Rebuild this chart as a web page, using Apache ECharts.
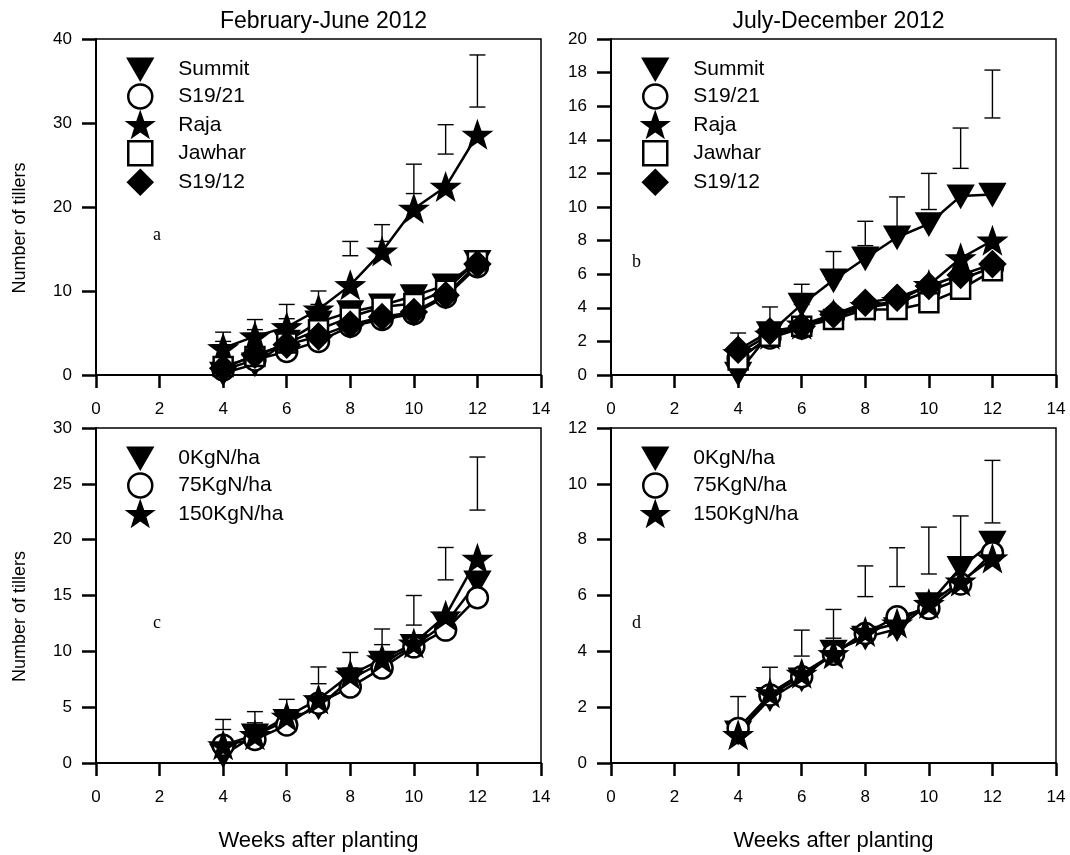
<!DOCTYPE html>
<html>
<head>
<meta charset="utf-8">
<script src="https://cdn.jsdelivr.net/npm/echarts@6/dist/echarts.min.js"></script>
<style>
  html, body { margin: 0; padding: 0; background: #fff; }
  #chart { width: 1070px; height: 855px; }
</style>
</head>
<body>
<div id="chart"></div>
<script>
// Weeks after planting (shared by all four panels)
const weeks = [4, 5, 6, 7, 8, 9, 10, 11, 12];
const xTicks = [0, 2, 4, 6, 8, 10, 12, 14];

// (a) February-June 2012, varieties
const febSummit = [0.2, 1.3, 4.0, 6.3, 7.5, 8.3, 9.4, 10.7, 13.5];
const febS1921  = [0.6, 1.8, 2.8, 4.0, 5.8, 6.6, 7.3, 9.3, 12.9];
const febRaja   = [3.2, 4.6, 5.7, 7.8, 10.7, 14.7, 19.8, 22.4, 28.6];
const febJawhar = [1.0, 2.2, 3.8, 5.4, 6.9, 8.1, 8.5, 10.1, 13.6];
const febS1912  = [0.8, 2.4, 3.6, 4.6, 6.0, 6.9, 7.5, 9.5, 13.2];
const febLsdLow  = [4.0, 5.4, 6.7, 8.4, 14.2, 15.9, 21.6, 26.3, 31.9];
const febLsdHigh = [5.1, 6.6, 8.4, 10.0, 15.9, 17.9, 25.1, 29.8, 38.1];

// (b) July-December 2012, varieties
const julSummit = [0.1, 2.5, 4.2, 5.65, 6.95, 8.2, 9.0, 10.65, 10.75];
const julS1921  = [1.0, 2.2, 2.8, 3.5, 4.0, 4.3, 5.0, 5.7, 6.4];
const julRaja   = [1.3, 2.4, 3.0, 3.6, 4.1, 4.4, 5.36, 6.95, 8.0];
const julJawhar = [0.9, 2.3, 2.9, 3.3, 3.9, 3.9, 4.3, 5.1, 6.2];
const julS1912  = [1.5, 2.6, 2.9, 3.6, 4.3, 4.6, 5.3, 5.95, 6.6];
const julLsdLow  = [1.5, 2.8, 4.2, 5.7, 7.7, 8.6, 9.85, 12.3, 15.3];
const julLsdHigh = [2.5, 4.05, 5.4, 7.35, 9.15, 10.6, 12.0, 14.7, 18.15];

// (c) February-June 2012, nitrogen rates
const febN0   = [0.7, 2.5, 3.8, 5.0, 7.5, 9.0, 10.5, 12.5, 16.2];
const febN75  = [1.6, 2.1, 3.4, 5.35, 6.8, 8.5, 10.4, 11.9, 14.8];
const febN150 = [1.6, 2.5, 4.15, 5.7, 7.9, 9.3, 10.7, 13.2, 18.3];
const febNLsdLow  = [3.0, 3.6, 4.3, 7.1, 8.5, 10.6, 12.35, 16.4, 22.65];
const febNLsdHigh = [3.9, 4.6, 5.7, 8.6, 9.9, 12.0, 15.0, 19.3, 27.4];

// (d) July-December 2012, nitrogen rates
const julN0   = [1.1, 2.3, 3.0, 4.0, 4.5, 4.8, 5.7, 7.0, 7.9];
const julN75  = [1.24, 2.44, 3.09, 3.9, 4.64, 5.24, 5.54, 6.41, 7.53];
const julN150 = [1.0, 2.5, 3.2, 3.9, 4.7, 5.0, 5.7, 6.5, 7.33];
const julNLsdLow  = [1.3, 2.6, 3.83, 4.47, 5.96, 6.32, 6.77, 7.15, 8.6];
const julNLsdHigh = [2.38, 3.43, 4.76, 5.5, 7.06, 7.71, 8.45, 8.85, 10.84];

// Y axis ranges per panel
const yMax = [40, 20, 30, 12];
const yStep = [10, 2, 5, 2];

const varietyNames = ['Summit', 'S19/21', 'Raja', 'Jawhar', 'S19/12'];
const nitrogenNames = ['0KgN/ha', '75KgN/ha', '150KgN/ha'];

// ---- marker shapes ----
function starPath() {
  const pts = [];
  for (let i = 0; i < 10; i++) {
    const r = i % 2 === 0 ? 50 : 20;
    const a = -Math.PI / 2 + i * Math.PI / 5;
    pts.push((50 + r * Math.cos(a)).toFixed(2) + ',' + (50 + r * Math.sin(a)).toFixed(2));
  }
  return 'path://M' + pts.join('L') + 'Z';
}
const SYM = {
  down: { symbol: 'path://M0,0L100,0L50,86Z', size: [24, 21], fill: '#000' },
  circle: { symbol: 'circle', size: 21, fill: '#fff' },
  star: { symbol: starPath(), size: [25, 24], fill: '#000' },
  square: { symbol: 'rect', size: 19, fill: '#fff' },
  diamond: { symbol: 'diamond', size: [25, 25], fill: '#000' }
};
const varietyShapes = [SYM.down, SYM.circle, SYM.star, SYM.square, SYM.diamond];
const nitrogenShapes = [SYM.down, SYM.circle, SYM.star];

const FONT = 'Liberation Sans, Arial, Helvetica, sans-serif';
const grids = [
  { left: 96, top: 39, width: 445, height: 336 },
  { left: 611, top: 39, width: 445, height: 336 },
  { left: 96, top: 428, width: 445, height: 335 },
  { left: 611, top: 428, width: 445, height: 335 }
];

function pairs(ys) { return weeks.map((w, i) => [w, ys[i]]); }
function lsdTriples(lo, hi) { return weeks.map((w, i) => [w, lo[i], hi[i]]); }

function lineSeries(name, ys, shape, idx) {
  return {
    type: 'line', name: name, xAxisIndex: idx, yAxisIndex: idx,
    data: pairs(ys),
    symbol: shape.symbol, symbolSize: shape.size,
    lineStyle: { color: '#000', width: 2.5 },
    itemStyle: { color: shape.fill, borderColor: '#000', borderWidth: 2.5 },
    emphasis: { disabled: true },
    animation: false, z: 3
  };
}

// LSD bars: vertical segment with end caps
function lsdSeries(lo, hi, idx) {
  return {
    type: 'custom', xAxisIndex: idx, yAxisIndex: idx,
    data: lsdTriples(lo, hi),
    encode: { x: 0, y: [1, 2] },
    z: 2, animation: false, silent: true,
    renderItem: function (params, api) {
      const x = api.value(0);
      const a = api.coord([x, api.value(1)]);
      const b = api.coord([x, api.value(2)]);
      const w = 8;
      const st = { stroke: '#000', lineWidth: 1.4 };
      return {
        type: 'group', children: [
          { type: 'line', shape: { x1: a[0], y1: a[1], x2: b[0], y2: b[1] }, style: st },
          { type: 'line', shape: { x1: a[0] - w, y1: a[1], x2: a[0] + w, y2: a[1] }, style: st },
          { type: 'line', shape: { x1: b[0] - w, y1: b[1], x2: b[0] + w, y2: b[1] }, style: st }
        ]
      };
    }
  };
}

const series = [];
[[febSummit, febS1921, febRaja, febJawhar, febS1912], [julSummit, julS1921, julRaja, julJawhar, julS1912]]
  .forEach((set, p) => set.forEach((ys, k) => series.push(lineSeries(varietyNames[k], ys, varietyShapes[k], p))));
[[febN0, febN75, febN150], [julN0, julN75, julN150]]
  .forEach((set, p) => set.forEach((ys, k) => series.push(lineSeries(nitrogenNames[k], ys, nitrogenShapes[k], p + 2))));
series.push(lsdSeries(febLsdLow, febLsdHigh, 0));
series.push(lsdSeries(julLsdLow, julLsdHigh, 1));
series.push(lsdSeries(febNLsdLow, febNLsdHigh, 2));
series.push(lsdSeries(julNLsdLow, julNLsdHigh, 3));

function legendFor(idx, names, shapes) {
  const g = grids[idx];
  return {
    orient: 'vertical', left: g.left + 26, top: g.top + 13.5,
    itemWidth: 24, itemHeight: 24, itemGap: 2.5,
    selectedMode: false,
    textStyle: { fontFamily: FONT, fontSize: 21, color: '#000', padding: [0, 0, 0, 21] },
    data: names.map((n, k) => ({
      name: n, icon: shapes[k].symbol,
      itemStyle: { color: shapes[k].fill, borderColor: '#000', borderWidth: 2.5 }
    }))
  };
}

const xAxes = grids.map((g, i) => ({
  type: 'value', gridIndex: i, min: 0, max: 14, interval: 2,
  axisLine: { show: true, onZero: false, lineStyle: { color: '#000', width: 2 } },
  axisTick: { show: true, inside: false, length: 13, lineStyle: { color: '#000', width: 2.5 } },
  axisLabel: { fontFamily: FONT, fontSize: 17, color: '#000', margin: 26,
    formatter: v => xTicks.includes(v) ? String(v) : '' },
  splitLine: { show: false },
  name: i >= 2 ? 'Weeks after planting' : '',
  nameLocation: 'middle', nameGap: 67,
  nameTextStyle: { fontFamily: FONT, fontSize: 22, color: '#000' }
}));

const yAxes = grids.map((g, i) => ({
  type: 'value', gridIndex: i, min: 0, max: yMax[i], interval: yStep[i],
  axisLine: { show: true, onZero: false, lineStyle: { color: '#000', width: 2 } },
  axisTick: { show: true, inside: false, length: 14, lineStyle: { color: '#000', width: 2.5 } },
  axisLabel: { fontFamily: FONT, fontSize: 17, color: '#000', margin: 24 },
  splitLine: { show: false }
}));

const panelLetters = [['a', 158, 236], ['b', 637, 263], ['c', 158, 624], ['d', 637, 624]];

// rotated y-axis titles beside the left-hand panels
const yTitles = [0, 2].map(i => ({
  type: 'text', x: 20, y: grids[i].top + grids[i].height / 2 + 21, rotation: Math.PI / 2,
  style: { text: 'Number of tillers', font: '18px "Liberation Sans", Arial, sans-serif',
    fill: '#000', textAlign: 'center', textVerticalAlign: 'middle' }
}));

const option = {
  backgroundColor: '#fff',
  animation: false,
  title: [
    { text: 'February-June 2012', left: 318.5, top: 5, textAlign: 'center',
      textStyle: { fontFamily: FONT, fontSize: 23, fontWeight: 'normal', color: '#000' } },
    { text: 'July-December 2012', left: 833.5, top: 5, textAlign: 'center',
      textStyle: { fontFamily: FONT, fontSize: 23, fontWeight: 'normal', color: '#000' } }
  ],
  grid: grids.map(g => Object.assign({ show: true, borderColor: '#000', borderWidth: 1.5, backgroundColor: 'transparent' }, g)),
  xAxis: xAxes,
  yAxis: yAxes,
  legend: [
    legendFor(0, varietyNames, varietyShapes),
    legendFor(1, varietyNames, varietyShapes),
    legendFor(2, nitrogenNames, nitrogenShapes),
    legendFor(3, nitrogenNames, nitrogenShapes)
  ],
  graphic: panelLetters.map(([t, x, y]) => ({
    type: 'text', left: x - 5, top: y - 10,
    style: { text: t, font: '18px "Liberation Serif", "Times New Roman", serif', fill: '#000' }
  })).concat(yTitles),
  series: series
};

const chart = echarts.init(document.getElementById('chart'), null, { renderer: 'canvas' });
chart.setOption(option);
</script>
</body>
</html>
